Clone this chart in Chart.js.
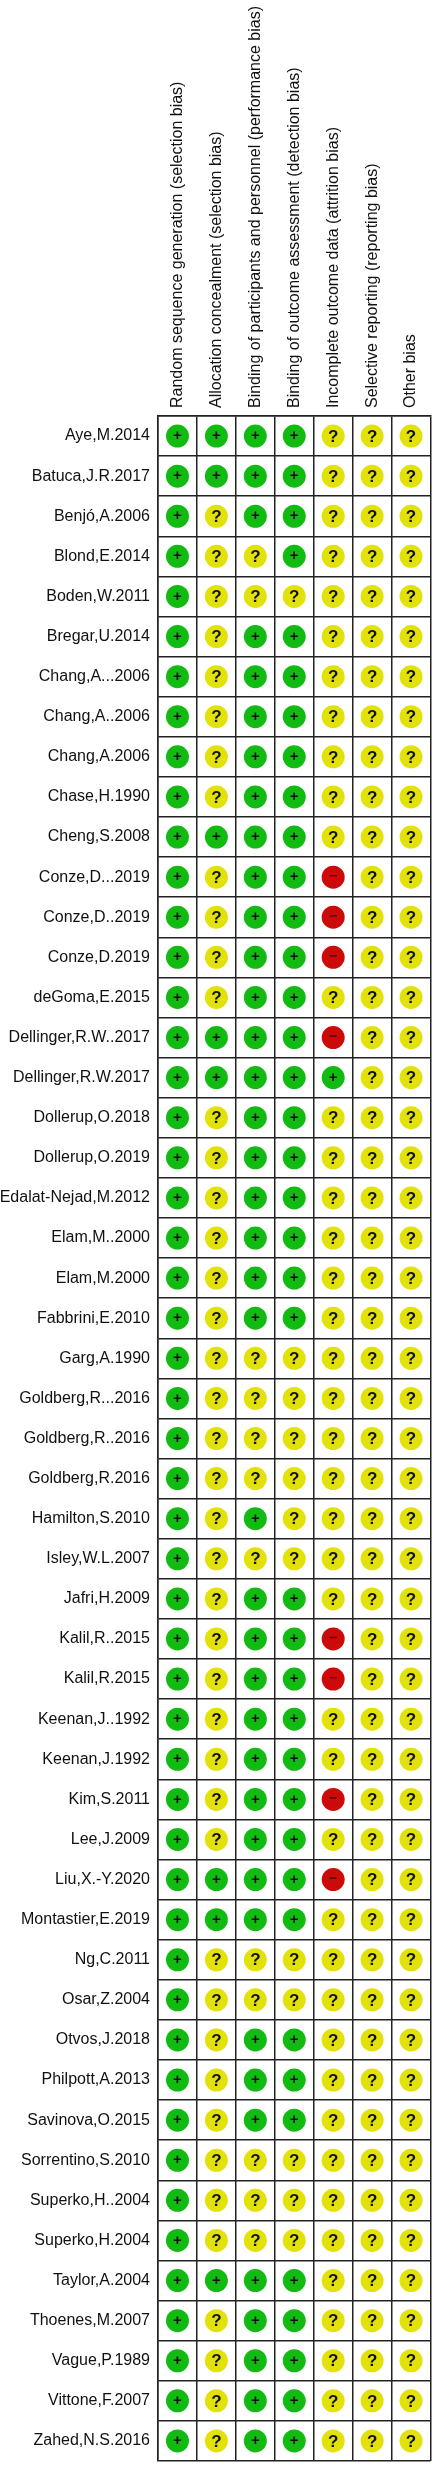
<!DOCTYPE html>
<html>
<head>
    <title>Risk of bias summary</title>
    <script src="https://cdn.jsdelivr.net/npm/chart.js"></script>
    <style>
        html, body { margin: 0; padding: 0; background: #fff; }
        #wrap { width: 442px; height: 2480px; }
    </style>
</head>
<body>
    <div id="wrap"><canvas id="robChart" width="442" height="2480"></canvas></div>

    <script>
        // Risk of bias domains (columns)
        var domains = [
            "Random sequence generation (selection bias)",
            "Allocation concealment (selection bias)",
            "Binding of participants and personnel (performance bias)",
            "Binding of outcome assessment (detection bias)",
            "Incomplete outcome data (attrition bias)",
            "Selective reporting (reporting bias)",
            "Other bias"
        ];

        // Studies (rows)
        var studies = [
            "Aye,M.2014", "Batuca,J.R.2017", "Benjó,A.2006", "Blond,E.2014", "Boden,W.2011",
            "Bregar,U.2014", "Chang,A...2006", "Chang,A..2006", "Chang,A.2006", "Chase,H.1990",
            "Cheng,S.2008", "Conze,D...2019", "Conze,D..2019", "Conze,D.2019", "deGoma,E.2015",
            "Dellinger,R.W..2017", "Dellinger,R.W.2017", "Dollerup,O.2018", "Dollerup,O.2019", "Edalat-Nejad,M.2012",
            "Elam,M..2000", "Elam,M.2000", "Fabbrini,E.2010", "Garg,A.1990", "Goldberg,R...2016",
            "Goldberg,R..2016", "Goldberg,R.2016", "Hamilton,S.2010", "Isley,W.L.2007", "Jafri,H.2009",
            "Kalil,R..2015", "Kalil,R.2015", "Keenan,J..1992", "Keenan,J.1992", "Kim,S.2011",
            "Lee,J.2009", "Liu,X.-Y.2020", "Montastier,E.2019", "Ng,C.2011", "Osar,Z.2004",
            "Otvos,J.2018", "Philpott,A.2013", "Savinova,O.2015", "Sorrentino,S.2010", "Superko,H..2004",
            "Superko,H.2004", "Taylor,A.2004", "Thoenes,M.2007", "Vague,P.1989", "Vittone,F.2007",
            "Zahed,N.S.2016"
        ];

        // Judgements per domain: "+" low risk, "?" unclear, "-" high risk
        var randomSeq = [
            "+","+","+","+","+","+","+","+","+","+",
            "+","+","+","+","+","+","+","+","+","+",
            "+","+","+","+","+","+","+","+","+","+",
            "+","+","+","+","+","+","+","+","+","+",
            "+","+","+","+","+","+","+","+","+","+",
            "+"
        ];
        var allocation = [
            "+","+","?","?","?","?","?","?","?","?",
            "+","?","?","?","?","+","+","?","?","?",
            "?","?","?","?","?","?","?","?","?","?",
            "?","?","?","?","?","?","+","+","?","?",
            "?","?","?","?","?","?","+","?","?","?",
            "?"
        ];
        var blindPart = [
            "+","+","+","?","?","+","+","+","+","+",
            "+","+","+","+","+","+","+","+","+","+",
            "+","+","+","?","?","?","?","+","?","+",
            "+","+","+","+","+","+","+","+","?","?",
            "+","+","+","?","?","?","+","+","+","+",
            "+"
        ];
        var blindOutcome = [
            "+","+","+","+","?","+","+","+","+","+",
            "+","+","+","+","+","+","+","+","+","+",
            "+","+","+","?","?","?","?","?","?","+",
            "+","+","+","+","+","+","+","+","?","?",
            "+","+","+","?","?","?","+","+","+","+",
            "+"
        ];
        var incomplete = [
            "?","?","?","?","?","?","?","?","?","?",
            "?","-","-","-","?","-","+","?","?","?",
            "?","?","?","?","?","?","?","?","?","?",
            "-","-","?","?","-","?","-","?","?","?",
            "?","?","?","?","?","?","?","?","?","?",
            "?"
        ];
        var selective = [
            "?","?","?","?","?","?","?","?","?","?",
            "?","?","?","?","?","?","?","?","?","?",
            "?","?","?","?","?","?","?","?","?","?",
            "?","?","?","?","?","?","?","?","?","?",
            "?","?","?","?","?","?","?","?","?","?",
            "?"
        ];
        var otherBias = [
            "?","?","?","?","?","?","?","?","?","?",
            "?","?","?","?","?","?","?","?","?","?",
            "?","?","?","?","?","?","?","?","?","?",
            "?","?","?","?","?","?","?","?","?","?",
            "?","?","?","?","?","?","?","?","?","?",
            "?"
        ];

        var judgements = [randomSeq, allocation, blindPart, blindOutcome, incomplete, selective, otherBias];

        var fillColors = { "+": "#11bb11", "?": "#e2e20a", "-": "#cc0a0a" };
        var labelFont = '16px "Liberation Sans", Arial, sans-serif';

        // Build the point list: one point per study/domain cell
        function getPoints() {
            var points = [];
            judgements.forEach(function (column, d) {
                column.forEach(function (code, s) {
                    points.push({ x: domains[d], y: studies[s], v: code });
                });
            });
            return points;
        }

        // Vertical domain labels, centred on each column of the x scale
        var columnLabels = {
            id: 'columnLabels',
            afterDraw: function (chart) {
                var ctx = chart.ctx;
                var xs = chart.scales.x;
                ctx.save();
                ctx.fillStyle = '#111';
                ctx.font = labelFont;
                ctx.textAlign = 'left';
                ctx.textBaseline = 'middle';
                xs.ticks.forEach(function (t, i) {
                    ctx.save();
                    ctx.translate(xs.getPixelForTick(i), xs.bottom - 8);
                    ctx.rotate(-Math.PI / 2);
                    ctx.fillText(domains[i], 0, 0);
                    ctx.restore();
                });
                ctx.restore();
            }
        };

        // Draws the +, ? and - signs on top of each circle
        var symbolPlugin = {
            id: 'robSymbols',
            afterDatasetsDraw: function (chart) {
                var ctx = chart.ctx;
                var meta = chart.getDatasetMeta(0);
                var pts = chart.data.datasets[0].data;
                ctx.save();
                ctx.textAlign = 'center';
                ctx.textBaseline = 'middle';
                meta.data.forEach(function (el, i) {
                    var code = pts[i].v;
                    if (code === '+') {
                        ctx.fillStyle = '#111';
                        ctx.font = 'bold 15px "Liberation Sans", Arial, sans-serif';
                        ctx.fillText('+', el.x, el.y);
                    } else if (code === '?') {
                        ctx.fillStyle = '#111';
                        ctx.font = 'bold 17px "Liberation Sans", Arial, sans-serif';
                        ctx.fillText('?', el.x, el.y + 1);
                    } else {
                        ctx.strokeStyle = '#3a0000';
                        ctx.lineWidth = 1.3;
                        ctx.beginPath();
                        ctx.moveTo(el.x - 3.5, el.y - 1.5);
                        ctx.lineTo(el.x + 3.5, el.y - 1.5);
                        ctx.stroke();
                    }
                });
                ctx.restore();
            }
        };

        var canvas = document.getElementById("robChart");

        var chart = new Chart(canvas, {
            type: 'scatter',
            data: {
                datasets: [{
                    data: getPoints(),
                    pointRadius: 11.5,
                    pointBorderWidth: 0,
                    pointBackgroundColor: function (c) { return c.raw ? fillColors[c.raw.v] : '#fff'; },
                    pointBorderColor: 'rgba(0,0,0,0)'
                }]
            },
            plugins: [symbolPlugin, columnLabels],
            options: {
                responsive: false,
                animation: false,
                events: [],
                layout: { padding: { top: 0, right: 1, bottom: 19, left: 0 } },
                plugins: {
                    legend: { display: false },
                    tooltip: { enabled: false }
                },
                scales: {
                    x: {
                        type: 'category',
                        labels: domains,
                        position: 'top',
                        offset: true,
                        grid: { offset: true, color: '#222', lineWidth: 1.5, drawTicks: false },
                        border: { display: true, color: '#222', width: 1.5 },
                        ticks: { display: false },
                        afterFit: function (scale) { scale.height = 416; }
                    },
                    y: {
                        type: 'category',
                        labels: studies,
                        offset: true,
                        grid: { offset: true, color: '#222', lineWidth: 1.5, drawTicks: false },
                        border: { display: true, color: '#222', width: 1.5 },
                        ticks: {
                            autoSkip: false,
                            padding: 8,
                            color: '#111',
                            font: { family: '"Liberation Sans", Arial, sans-serif', size: 16 }
                        },
                        afterFit: function (scale) { scale.width = 158; }
                    }
                }
            }
        });
    </script>
</body>
</html>
